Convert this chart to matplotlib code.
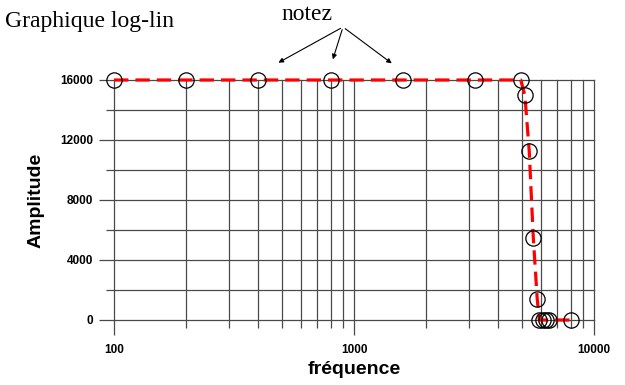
import numpy as np
import matplotlib
matplotlib.use("Agg")
import matplotlib.pyplot as plt
from matplotlib.patches import FancyArrowPatch
from matplotlib.ticker import FixedLocator, NullFormatter

# filter response sampled on a log frequency axis
freq = [100, 200, 400, 800, 1600, 3200, 4950, 5150, 5370, 5585, 5800,
        5920, 6130, 6310, 6480, 8000]
amplitude = [16000, 16000, 16000, 16000, 16000, 16000, 16000, 15000, 11300,
             5500, 1400, 0, 0, 0, 0, 0]

x_major = [100, 1000, 10000]
x_minor = [m * d for d in (100, 1000) for m in range(2, 10)]
y_major = [0, 4000, 8000, 12000, 16000]
y_minor = [2000, 6000, 10000, 14000]

plt.rcParams['font.family'] = ['Liberation Sans', 'DejaVu Sans']

fig = plt.figure(figsize=(6.25, 3.85), dpi=100)
ax = fig.add_axes([114 / 625, 65 / 385, 480 / 625, 240 / 385])

ax.set_xscale('log')
ax.set_xlim(100, 10000)
ax.set_ylim(0, 16000)

ax.xaxis.set_major_locator(FixedLocator(x_major))
ax.xaxis.set_minor_locator(FixedLocator(x_minor))
ax.xaxis.set_minor_formatter(NullFormatter())
ax.set_xticklabels([str(v) for v in x_major])
ax.yaxis.set_major_locator(FixedLocator(y_major))
ax.yaxis.set_minor_locator(FixedLocator(y_minor))
ax.set_yticklabels([str(v) for v in y_major])

for s in ax.spines.values():
    s.set_visible(False)

ax.grid(True, which='both', color='#4a4a4a', linewidth=0.9)
ax.tick_params(which='major', length=11, width=0.9, color='#4a4a4a',
               labelsize=8.5, pad=4)
ax.tick_params(which='minor', length=6, width=0.9, color='#4a4a4a')
ax.tick_params(axis='x', which='major', pad=6)
for lbl in ax.get_xticklabels() + ax.get_yticklabels():
    lbl.set_fontweight('bold')

# keep the edge grid lines fully visible
for axis in (ax.xaxis, ax.yaxis):
    for t in axis.get_major_ticks() + axis.get_minor_ticks():
        t.gridline.set_clip_on(False)

ax.plot(freq, amplitude, color='#ff0000', linewidth=2.3,
        dashes=(4.5, 2.2), zorder=3, clip_on=False)
ax.plot(freq, amplitude, linestyle='none', marker='o', markersize=11,
        markerfacecolor='none', markeredgecolor='black', markeredgewidth=0.9,
        zorder=4, clip_on=False)

ax.set_xlabel('fréquence', fontsize=14, fontweight='bold', labelpad=4)
ax.set_ylabel('Amplitude', fontsize=14, fontweight='bold', labelpad=11)

fig.text(5 / 625, 1 - 22 / 385, 'Graphique log-lin', family='Liberation Serif',
         fontsize=17, va='center', ha='left')
fig.text(307 / 625, 1 - 14 / 385, 'notez', family='Liberation Serif',
         fontsize=17, va='center', ha='center')

# arrows from the note to the top edge
start = (343 / 625, 1 - 27 / 385)
for tx, ty in [(276, 64), (332, 62), (394, 65)]:
    fig.patches.append(FancyArrowPatch(
        start, (tx / 625, 1 - ty / 385), transform=fig.transFigure,
        arrowstyle='-|>', mutation_scale=7, color='black', linewidth=0.8))

fig.savefig('out.png', dpi=100)
